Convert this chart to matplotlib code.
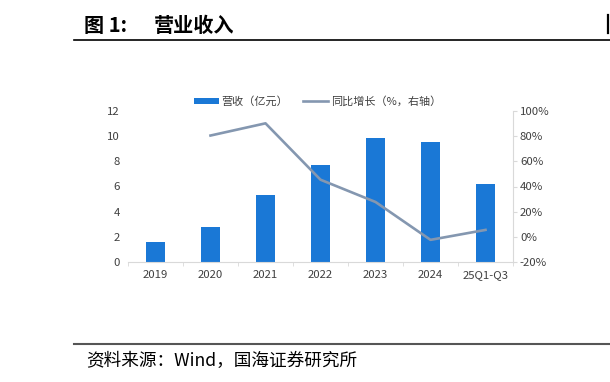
import numpy as np
import matplotlib.pyplot as plt
from matplotlib.lines import Line2D

plt.rcParams['font.family'] = ['Noto Sans CJK SC', 'DejaVu Sans']

# 数据
categories = ['2019', '2020', '2021', '2022', '2023', '2024', '25Q1-Q3']
revenue = [1.58, 2.80, 5.33, 7.70, 9.84, 9.55, 6.20]          # 亿元
yoy = [np.nan, 80.5, 90.2, 45.4, 27.7, -2.4, 5.5]              # %

bar_color = '#1A78D6'
line_color = '#8497B0'
tick_color = '#404040'
spine_color = '#D9D9D9'

W, H = 610, 382
fig = plt.figure(figsize=(W / 100, H / 100), dpi=100)

# 标题与分隔线
fig.text(84 / W, 1 - 25 / H, '图 1:', fontsize=14.5, fontweight='bold', va='center', ha='left')
fig.text(154 / W, 1 - 25 / H, '营业收入', fontsize=14.5, fontweight='bold', va='center', ha='left')
fig.add_artist(Line2D([74 / W, 1], [1 - 40 / H] * 2, color='black', lw=1.2))
fig.add_artist(Line2D([608 / W] * 2, [1 - 15 / H, 1 - 33 / H], color='black', lw=1.6))

# 底部来源
fig.add_artist(Line2D([74 / W, 1], [1 - 343.5 / H] * 2, color='#555555', lw=1.5))
fig.text(86 / W, 1 - 361 / H, '资料来源：Wind，国海证券研究所', fontsize=12.7, va='center', ha='left')

ax = fig.add_axes([128 / W, 1 - 262 / H, 385 / W, 151 / H])
x = np.arange(len(categories))
ax.bar(x, revenue, width=0.33, color=bar_color, zorder=2, label='营收（亿元）')
ax.set_xlim(-0.5, len(categories) - 0.5)
ax.set_ylim(0, 12)
ax.set_yticks(np.arange(0, 13, 2))
ax.set_xticks(x)
ax.set_xticklabels(categories)
ax.set_xticks(np.arange(-0.5, len(categories), 1), minor=True)
ax.tick_params(axis='x', which='major', length=0, pad=6, labelsize=8.2, labelcolor=tick_color)
ax.tick_params(axis='x', which='minor', length=3, color=spine_color, direction='out')
ax.tick_params(axis='y', length=0, pad=6, labelsize=8.2, labelcolor=tick_color)
for s in ['top', 'left', 'right']:
    ax.spines[s].set_visible(False)
ax.spines['bottom'].set_color(spine_color)

ax2 = ax.twinx()
ax2.plot(x, yoy, color=line_color, lw=1.9, zorder=3, label='同比增长（%，右轴）')
ax2.set_ylim(-20, 100)
ax2.set_yticks(np.arange(-20, 101, 20))
ax2.set_yticklabels([f'{v}%' for v in range(-20, 101, 20)])
ax2.tick_params(axis='y', length=3, color=spine_color, pad=2, labelsize=8.2, labelcolor=tick_color)
for s in ['top', 'left', 'bottom']:
    ax2.spines[s].set_visible(False)
ax2.spines['right'].set_color(spine_color)

h1, l1 = ax.get_legend_handles_labels()
h2, l2 = ax2.get_legend_handles_labels()
ax.legend(h1 + h2, l1 + l2, loc='center', bbox_to_anchor=(0.492, 1.062), ncol=2,
          frameon=False, fontsize=8, handlelength=2.25, handleheight=0.55,
          columnspacing=1.3, handletextpad=0.25, borderpad=0, labelcolor=tick_color)

fig.savefig('out.png', dpi=100)
